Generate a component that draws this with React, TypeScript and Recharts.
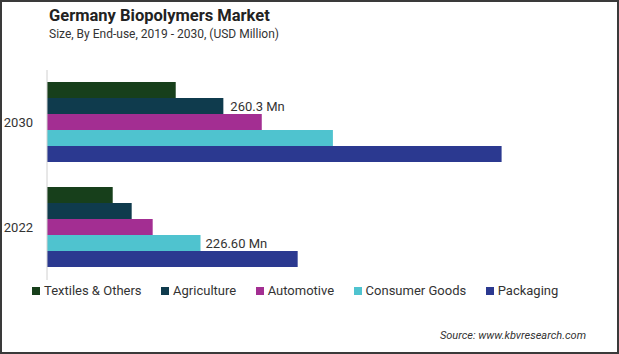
import { BarChart, Bar, XAxis, YAxis, LabelList } from "recharts";

const years = ["2030", "2022"];
const textiles = [190, 97];
const agriculture = [260.3, 125];
const automotive = [317, 156];
const consumerGoods = [422, 226.6];
const packaging = [671, 370];
const agricultureLabels = ["260.3 Mn", ""];
const consumerLabels = ["", "226.60 Mn"];

const seriesNames = ["Textiles & Others", "Agriculture", "Automotive", "Consumer Goods", "Packaging"];
const seriesColors = ["#173f1b", "#0f3b4d", "#a32e92", "#4fc3cf", "#2b3990"];
const seriesKeys = ["textiles", "agriculture", "automotive", "consumer", "packaging"];

const chartData = years.map((year, i) => ({
  year,
  textiles: textiles[i],
  agriculture: agriculture[i],
  automotive: automotive[i],
  consumer: consumerGoods[i],
  packaging: packaging[i],
  agriLabel: agricultureLabels[i],
  consumerLabel: consumerLabels[i],
}));

const font = "Roboto, 'Noto Sans', sans-serif";

const App = () => {
  return (
    <div
      style={{
        position: "absolute",
        left: 0,
        top: 0,
        width: 619,
        height: 354,
        boxSizing: "border-box",
        border: "2px solid #3a3a3a",
        background: "#fff",
        fontFamily: font,
        overflow: "hidden",
      }}
    >
      <div style={{ position: "absolute", left: 47, top: 4, fontSize: 16.5, fontWeight: 700, color: "#222" }}>
        Germany Biopolymers Market
      </div>
      <div style={{ position: "absolute", left: 47, top: 25, fontSize: 12, color: "#333" }}>
        Size, By End-use, 2019 - 2030, (USD Million)
      </div>

      <div style={{ position: "absolute", left: -2, top: -2 }}>
        <BarChart
          width={619}
          height={354}
          data={chartData}
          layout="vertical"
          margin={{ top: 70, right: 30, bottom: 74, left: 7 }}
          barCategoryGap={12}
          barGap={0}
        >
          <XAxis type="number" hide domain={[0, 800]} />
          <YAxis
            type="category"
            dataKey="year"
            width={40}
            tickLine={false}
            tickSize={0}
            tickMargin={14}
            axisLine={{ stroke: "#d0d0d0" }}
            tick={{ fill: "#333", fontSize: 13, fontFamily: font }}
          />
          {seriesKeys.map((key, i) => (
            <Bar key={key} dataKey={key} fill={seriesColors[i]} isAnimationActive={false}>
              {key === "agriculture" && (
                <LabelList dataKey="agriLabel" position="right" offset={7} fill="#333" fontSize={13} fontFamily={font} />
              )}
              {key === "consumer" && (
                <LabelList dataKey="consumerLabel" position="right" offset={5} fill="#333" fontSize={13} fontFamily={font} />
              )}
            </Bar>
          ))}
        </BarChart>
      </div>

      <div style={{ position: "absolute", left: 30, top: 281, display: "flex", alignItems: "center", fontSize: 13, color: "#333" }}>
        {seriesNames.map((name, i) => (
          <div key={name} style={{ display: "flex", alignItems: "center", marginRight: 19.5 }}>
            <span style={{ width: 8, height: 8, background: seriesColors[i], display: "inline-block", marginRight: 4 }} />
            <span>{name}</span>
          </div>
        ))}
      </div>

      <div style={{ position: "absolute", right: 31, top: 327, fontSize: 11, fontStyle: "italic", color: "#333" }}>
        Source: www.kbvresearch.com
      </div>
    </div>
  );
};

export default App;
